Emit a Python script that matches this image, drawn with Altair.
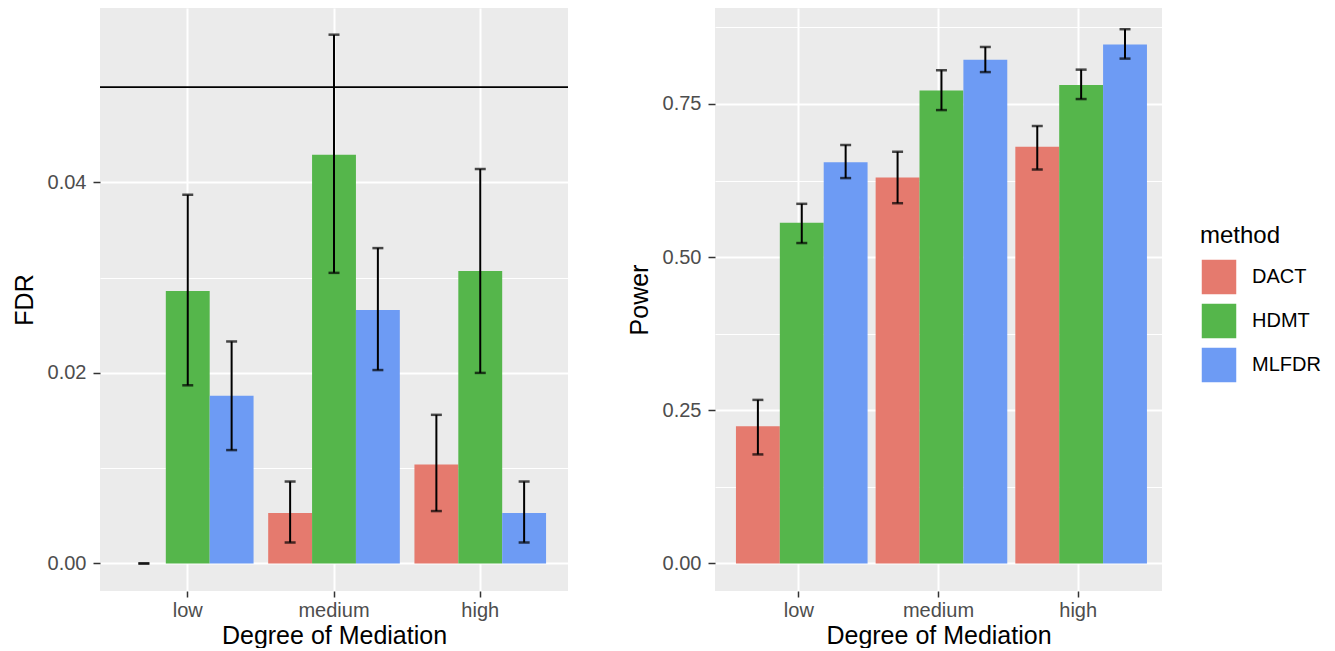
import altair as alt
import pandas as pd

# ---- data ----
categories = ["low", "medium", "high"]
methods = ["DACT", "HDMT", "MLFDR"]
colors = ["#E57A6E", "#55B64B", "#6D9BF4"]

fdr_dact = [0.0, 0.0053, 0.0104]
fdr_dact_lo = [0.0, 0.0022, 0.0055]
fdr_dact_hi = [0.0, 0.0086, 0.0156]
fdr_hdmt = [0.0286, 0.0429, 0.0307]
fdr_hdmt_lo = [0.0187, 0.0305, 0.0200]
fdr_hdmt_hi = [0.0387, 0.0555, 0.0414]
fdr_mlfdr = [0.0176, 0.0266, 0.0053]
fdr_mlfdr_lo = [0.0119, 0.0203, 0.0022]
fdr_mlfdr_hi = [0.0233, 0.0331, 0.0086]

pow_dact = [0.224, 0.630, 0.680]
pow_dact_lo = [0.178, 0.588, 0.643]
pow_dact_hi = [0.267, 0.672, 0.714]
pow_hdmt = [0.556, 0.772, 0.781]
pow_hdmt_lo = [0.523, 0.740, 0.758]
pow_hdmt_hi = [0.587, 0.805, 0.806]
pow_mlfdr = [0.655, 0.822, 0.847]
pow_mlfdr_lo = [0.629, 0.802, 0.824]
pow_mlfdr_hi = [0.683, 0.843, 0.872]

fdr_threshold = [0.05]
fdr_ticks = [0.0, 0.01, 0.02, 0.03, 0.04, 0.05]
pow_ticks = [0.0, 0.125, 0.25, 0.375, 0.5, 0.625, 0.75, 0.875]


def build(vals, los, his):
    rows = []
    for m, v, lo, hi in zip(methods, vals, los, his):
        for c, a, b, d in zip(categories, v, lo, hi):
            rows.append({"cat": c, "method": m, "val": a, "lo": b, "hi": d})
    return pd.DataFrame(rows)


fdr_df = build([fdr_dact, fdr_hdmt, fdr_mlfdr],
               [fdr_dact_lo, fdr_hdmt_lo, fdr_mlfdr_lo],
               [fdr_dact_hi, fdr_hdmt_hi, fdr_mlfdr_hi])
pow_df = build([pow_dact, pow_hdmt, pow_mlfdr],
               [pow_dact_lo, pow_hdmt_lo, pow_mlfdr_lo],
               [pow_dact_hi, pow_hdmt_hi, pow_mlfdr_hi])

FONT = "Liberation Sans"

xenc = alt.X("cat:N", sort=categories, title="Degree of Mediation",
             scale=alt.Scale(paddingInner=0.1, paddingOuter=0.15),
             axis=alt.Axis(labelAngle=0, grid=True, gridColor="white", gridWidth=2,
                           bandPosition=0.5, domain=False, tickSize=6, tickWidth=1.5,
                           tickColor="#333333", labelPadding=3, titlePadding=3))
xoff = alt.XOffset("method:N", sort=methods,
                   scale=alt.Scale(paddingInner=0, paddingOuter=0))
colenc = alt.Color("method:N", sort=methods,
                   scale=alt.Scale(domain=methods, range=colors),
                   legend=alt.Legend(title="method", orient="none",
                                     legendX=1100, legendY=216))


def panel(df, ytitle, domain, ticks, major_test, width, extra=None):
    yaxis = alt.Axis(values=ticks,
                     labelExpr=f"({major_test}) ? format(datum.value, '.2f') : ''",
                     gridColor="white",
                     gridWidth={"condition": {"test": major_test, "value": 2}, "value": 1},
                     tickOpacity={"condition": {"test": major_test, "value": 1}, "value": 0},
                     domain=False, tickSize=7, tickWidth=1.5, tickColor="#333333",
                     labelPadding=7, titlePadding=10)
    yscale = alt.Scale(domain=domain, nice=False, zero=False)
    base = alt.Chart(df)
    bars = base.mark_bar().encode(
        x=xenc, xOffset=xoff,
        y=alt.Y("val:Q", title=ytitle, scale=yscale, axis=yaxis),
        color=colenc,
    )
    rules = base.mark_rule(color="black", strokeWidth=2).encode(
        x=xenc, xOffset=xoff, y=alt.Y("lo:Q"), y2="hi:Q")
    cap_lo = base.mark_tick(color="black", orient="horizontal", size=11, thickness=2.5).encode(
        x=xenc, xOffset=xoff, y=alt.Y("lo:Q"))
    cap_hi = base.mark_tick(color="black", orient="horizontal", size=11, thickness=2.5).encode(
        x=xenc, xOffset=xoff, y=alt.Y("hi:Q"))
    layers = [bars, rules, cap_lo, cap_hi]
    if extra is not None:
        layers.append(extra)
    return alt.layer(*layers).properties(width=width, height=583)


hline = alt.Chart(pd.DataFrame({"t": fdr_threshold})).mark_rule(
    color="black", strokeWidth=1.8).encode(y=alt.Y("t:Q"))

left = panel(fdr_df, "FDR", [-0.00289, 0.0583], fdr_ticks,
             "round(datum.value * 100) % 2 == 0", 468, hline)
right = panel(pow_df, "Power", [-0.0449, 0.9066], pow_ticks,
              "round(datum.value * 1000) % 250 == 0", 447)

chart = alt.hconcat(left, right, spacing=58).properties(
    padding={"left": 4, "top": 0, "right": 0, "bottom": 0}
).configure_view(
    fill="#EBEBEB", stroke=None
).configure_axis(
    labelFont=FONT, titleFont=FONT, labelFontSize=20, titleFontSize=25,
    labelColor="#4D4D4D", titleColor="black", titleFontWeight="normal",
).configure_legend(
    titleFont=FONT, labelFont=FONT, titleFontSize=24, labelFontSize=20,
    titleColor="black", labelColor="black", titleFontWeight="normal",
    symbolType="square", symbolSize=1296, symbolStrokeColor="white",
    symbolStrokeWidth=1.5, symbolOpacity=1, rowPadding=2, labelOffset=14,
    titlePadding=10, padding=0,
)

chart.save("out.html", embed_options={"renderer": "svg", "actions": False})
